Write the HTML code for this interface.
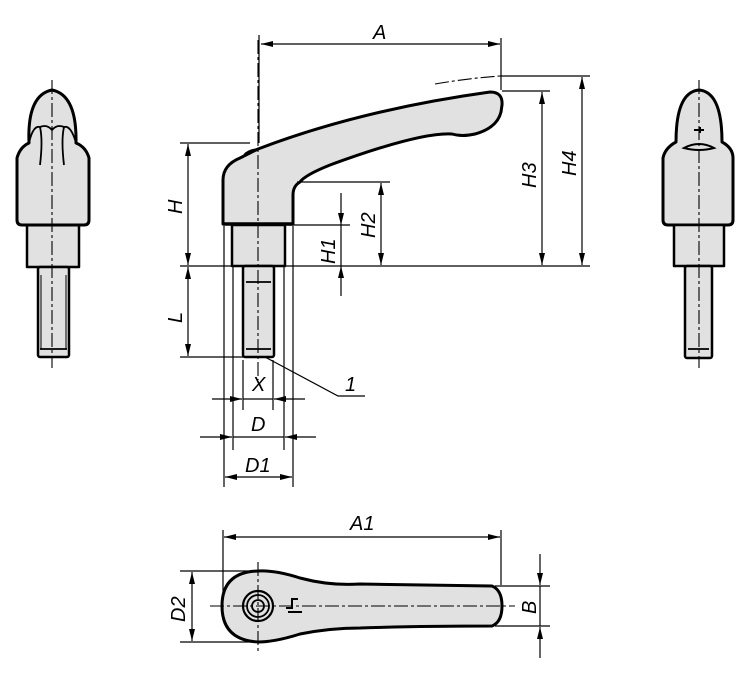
<!DOCTYPE html>
<html><head><meta charset="utf-8"><style>
html,body{margin:0;padding:0;background:#fff}
svg{display:block}
text{font-family:"Liberation Sans",sans-serif;font-style:italic;font-size:20px;fill:#000}
</style></head><body>
<svg width="750" height="674" viewBox="0 0 750 674" xmlns="http://www.w3.org/2000/svg">
<defs>
<marker id="ar" viewBox="0 0 12 6" refX="12" refY="3" markerWidth="13" markerHeight="6" orient="auto-start-reverse" markerUnits="userSpaceOnUse"><path d="M0,0 L12,3 L0,6 z" fill="#000"/></marker>
</defs>
<g fill="#e1e1e1" stroke="#000" stroke-width="3" stroke-linejoin="round">
<path d="M223,224 L223,180 Q223,165 240,158 L258,149 Q360,110 490,92 Q503,92 502,105 L501,112 Q497,128 475,134 Q462,137 452,134 Q420,132 330,165 Q305,175 300,182 Q293,186 293,195 L293,224 Z"/>
<rect x="232" y="225" width="53" height="41" stroke-width="2.5"/>
<rect x="243" y="266" width="31" height="91" rx="2" stroke-width="2.5"/>
<path d="M17,220 L17,158 Q20,147 29,143 Q27,95 52,90 Q77,95 76,143 Q86,147 89,158 L89,220 Q89,225 84,225 L22,225 Q17,225 17,220Z"/>
<rect x="27" y="225" width="52" height="42" stroke-width="2.5"/>
<rect x="38" y="267" width="31" height="90" rx="2" stroke-width="2.5"/>
<path d="M663,220 L663,158 Q665,148 676,142 Q676,92 699,90 Q722,92 722,142 Q733,148 733,158 L733,220 Q733,225 728,225 L668,225 Q663,225 663,220Z"/>
<rect x="674" y="225" width="50" height="41" stroke-width="2.5"/>
<rect x="685" y="266" width="27" height="92" rx="2" stroke-width="2.5"/>
<path d="M258,571 Q275,570 300,578 Q330,586 360,584 Q420,585 492,586 Q502,590 502,606 Q502,622 492,626 Q420,626 360,628 Q330,628 300,634 Q275,642 258,642 Q222,640 222,606 Q222,572 258,571Z"/>
</g>
<g fill="none" stroke="#000" stroke-width="1.8">
<path d="M29,143 Q33,125 40,127 Q47,124 52,130 Q57,124 64,127 Q71,125 76,143"/>
<path d="M40,127 Q43,140 40,165 M64,127 Q61,140 64,165"/>
<line x1="28" y1="225" x2="79" y2="225" stroke-width="3"/>
<line x1="40" y1="349" x2="67" y2="349"/>
<line x1="41" y1="275" x2="41" y2="349" stroke-width="1"/><line x1="66" y1="275" x2="66" y2="349" stroke-width="1"/>
<path d="M684,148 Q699,140 714,148 Q699,152 684,148Z" stroke-width="2"/>
<path d="M694,130 L704,130 M700,127 L700,133" stroke-width="2"/>
<line x1="688" y1="349" x2="709" y2="349"/>
<line x1="246" y1="282" x2="271" y2="282"/>
<line x1="246" y1="349" x2="271" y2="349"/>
<line x1="223" y1="224" x2="293" y2="224" stroke-width="3.5"/>
<path d="M258,149 Q248,150 244,155"/>
<circle cx="258" cy="606" r="15" stroke-width="2.2"/>
<circle cx="258" cy="606" r="11"/>
<circle cx="258" cy="606" r="6"/>
<path d="M286,608 L292,608 L292,599 L298,599 M288,612 L302,612" stroke-width="2"/>
</g>
<g stroke="#000" stroke-width="1.1" stroke-dasharray="14,3,3,3" fill="none">
<line x1="258" y1="40" x2="258" y2="380"/>
<line x1="52" y1="80" x2="52" y2="368"/>
<line x1="699" y1="80" x2="699" y2="368"/>
<line x1="210" y1="606" x2="515" y2="606"/>
<line x1="258" y1="562" x2="258" y2="652"/>
<path d="M435,84 Q470,78 500,76"/>
</g>
<g stroke="#000" stroke-width="1.2" fill="none">
<line x1="259" y1="35" x2="259" y2="143"/>
<line x1="501" y1="38" x2="501" y2="90"/>
<line x1="261" y1="44" x2="500" y2="44" marker-start="url(#ar)" marker-end="url(#ar)"/>
<line x1="500" y1="76" x2="590" y2="76"/>
<line x1="502" y1="91" x2="550" y2="91"/>
<line x1="180" y1="266" x2="590" y2="266"/>
<line x1="180" y1="143" x2="250" y2="143"/>
<line x1="180" y1="357" x2="262" y2="357"/>
<line x1="297" y1="182" x2="390" y2="182"/>
<line x1="286" y1="225" x2="350" y2="225"/>
<line x1="188" y1="144" x2="188" y2="265" marker-start="url(#ar)" marker-end="url(#ar)"/>
<line x1="188" y1="267" x2="188" y2="356" marker-start="url(#ar)" marker-end="url(#ar)"/>
<line x1="341" y1="193" x2="341" y2="225" marker-end="url(#ar)"/>
<line x1="341" y1="296" x2="341" y2="266" marker-end="url(#ar)"/>
<line x1="341" y1="225" x2="341" y2="266"/>
<line x1="381" y1="183" x2="381" y2="265" marker-start="url(#ar)" marker-end="url(#ar)"/>
<line x1="542" y1="92" x2="542" y2="265" marker-start="url(#ar)" marker-end="url(#ar)"/>
<line x1="582" y1="77" x2="582" y2="265" marker-start="url(#ar)" marker-end="url(#ar)"/>
<line x1="224" y1="226" x2="224" y2="487"/>
<line x1="293" y1="226" x2="293" y2="487"/>
<line x1="233" y1="267" x2="233" y2="450"/>
<line x1="284" y1="267" x2="284" y2="450"/>
<line x1="243" y1="360" x2="243" y2="410"/>
<line x1="273" y1="360" x2="273" y2="410"/>
<line x1="212" y1="399" x2="242" y2="399" marker-end="url(#ar)"/>
<line x1="305" y1="399" x2="274" y2="399" marker-end="url(#ar)"/>
<line x1="243" y1="399" x2="273" y2="399"/>
<line x1="200" y1="437" x2="232" y2="437" marker-end="url(#ar)"/>
<line x1="316" y1="437" x2="285" y2="437" marker-end="url(#ar)"/>
<line x1="233" y1="437" x2="284" y2="437"/>
<line x1="225" y1="477" x2="292" y2="477" marker-start="url(#ar)" marker-end="url(#ar)"/>
<polyline points="265,357 338,396 365,396"/>
<line x1="223" y1="530" x2="223" y2="600"/>
<line x1="501" y1="530" x2="501" y2="585"/>
<line x1="224" y1="537" x2="500" y2="537" marker-start="url(#ar)" marker-end="url(#ar)"/>
<line x1="180" y1="571" x2="258" y2="571"/>
<line x1="180" y1="642" x2="258" y2="642"/>
<line x1="192" y1="572" x2="192" y2="641" marker-start="url(#ar)" marker-end="url(#ar)"/>
<line x1="495" y1="586" x2="550" y2="586"/>
<line x1="495" y1="626" x2="550" y2="626"/>
<line x1="540" y1="554" x2="540" y2="585" marker-end="url(#ar)"/>
<line x1="540" y1="658" x2="540" y2="627" marker-end="url(#ar)"/>
<line x1="540" y1="586" x2="540" y2="626"/>
</g>
<text x="373" y="39">A</text>
<text x="350" y="530">A1</text>
<text x="252" y="391">X</text>
<text x="251" y="431">D</text>
<text x="245" y="472">D1</text>
<text x="345" y="391">1</text>
<text transform="translate(182,214) rotate(-90)">H</text>
<text transform="translate(182,323) rotate(-90)">L</text>
<text transform="translate(335,264) rotate(-90)">H1</text>
<text transform="translate(375,238) rotate(-90)">H2</text>
<text transform="translate(536,188) rotate(-90)">H3</text>
<text transform="translate(576,176) rotate(-90)">H4</text>
<text transform="translate(185,622) rotate(-90)">D2</text>
<text transform="translate(536,614) rotate(-90)">B</text>
</svg>
</body></html>
